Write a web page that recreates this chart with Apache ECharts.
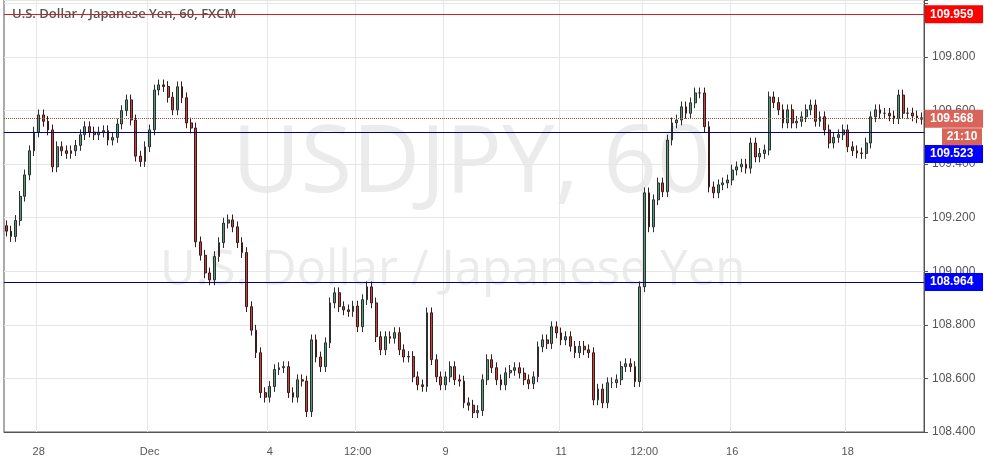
<!DOCTYPE html>
<html><head><meta charset="utf-8">
<script src="https://cdn.jsdelivr.net/npm/echarts@6/dist/echarts.min.js"></script>
<style>html,body{margin:0;padding:0;background:#fff}#c{width:984px;height:466px}</style>
</head><body><div id="c"></div>
<script>
const closes = [
109.15,109.13,109.19,109.28,109.36,109.45,109.52,109.584,109.56,109.528,109.39,109.465,109.45,109.44,109.45,109.47,109.51,109.54,109.52,109.51,109.52,109.525,109.49,109.50,109.55,109.60,109.64,109.565,109.43,109.41,109.465,109.528,109.677,109.696,109.69,109.65,109.603,109.689,109.648,109.554,109.535,109.11,109.06,108.994,108.968,109.055,109.107,109.18,109.192,109.166,109.107,109.07,108.868,108.78,108.696,108.547,108.53,108.57,108.633,108.64,108.644,108.547,108.53,108.595,108.59,108.476,108.744,108.68,108.644,108.733,108.882,108.92,108.868,
108.856,108.85,108.87,108.793,108.894,108.942,108.882,108.756,108.707,108.756,108.75,108.771,108.707,108.68,108.682,108.606,108.576,108.57,108.845,108.67,108.606,108.576,108.606,108.644,108.595,108.59,108.509,108.50,108.472,108.48,108.595,108.67,108.64,108.595,108.576,108.621,108.63,108.64,108.62,108.595,108.58,108.606,108.718,108.744,108.73,108.793,108.77,108.744,108.756,108.72,108.696,108.72,108.707,108.696,108.52,108.56,108.509,108.584,108.584,108.595,108.644,
108.655,108.644,108.588,108.942,109.293,109.166,109.267,109.33,109.297,109.49,109.554,109.565,109.614,109.59,109.629,109.666,109.666,109.54,109.315,109.293,109.323,109.33,109.341,109.378,109.39,109.40,109.385,109.479,109.427,109.44,109.453,109.651,109.63,109.603,109.554,109.603,109.554,109.56,109.577,109.603,109.621,109.56,109.577,109.528,109.479,109.50,109.51,109.528,109.465,109.45,109.442,109.44,109.479,109.577,109.603,109.59,109.59,109.58,109.57,109.658,109.59,109.591,109.58,109.573,109.568];
const firstOpen = 109.17;
const wick = 0.02;
const tickLabels = {7:'28',31:'Dec',57:'4',76:'12:00',95:'9',120:'11',138:'12:00',157:'16',182:'18'};
const levels = {top:'109.959', last:'109.568', mid:'109.523', low:'108.964'};
const countdown = '21:10';

const cats = closes.map((c,i)=>tickLabels[i]||'');
const ohlc = closes.map((c,i)=>{
  const o = i===0?firstOpen:closes[i-1];
  return [o,c,Math.min(o,c)-wick,Math.max(o,c)+wick];
});
const ch = echarts.init(document.getElementById('c'));
const tag = (bg,txt,dy)=>({show:true,position:'end',distance:1,offset:[0,dy||0],backgroundColor:bg,color:'#fff',fontSize:12,fontWeight:'bold',padding:[3,5],width:48,formatter:()=>txt});
const isTick = i=>tickLabels[i]!==undefined;
ch.setOption({
  animation:false,
  grid:{left:4,right:60,top:0,bottom:34,show:true,borderColor:'#555',borderWidth:1},
  xAxis:{type:'category',data:cats,boundaryGap:true,
    axisLine:{lineStyle:{color:'#555'}},axisTick:{show:false},
    axisLabel:{interval:(i)=>isTick(i),color:'#555',fontSize:11,margin:14},
    splitLine:{show:true,interval:(i)=>isTick(i),lineStyle:{color:'#e6e6e6'}}},
  yAxis:{type:'value',position:'right',min:108.4,max:110.013,interval:0.2,
    axisLine:{show:true,lineStyle:{color:'#555'}},axisTick:{show:true,length:4,lineStyle:{color:'#555'}},
    axisLabel:{color:'#555',fontSize:12,formatter:v=>v>=110?'':v.toFixed(3)},
    splitLine:{lineStyle:{color:'#e6e6e6'}}},
  series:[{type:'candlestick',data:ohlc,barMaxWidth:3,
    itemStyle:{color:'#4e9e78',color0:'#c0463f',borderColor:'#2e2e2e',borderColor0:'#3a1a18',borderWidth:1},
    markLine:{symbol:'none',silent:true,data:[
      {yAxis:+levels.top,lineStyle:{color:'#d02020',type:'solid',width:1},label:tag('#ff0000',levels.top)},
      {yAxis:+levels.mid,lineStyle:{color:'#000080',type:'solid',width:1},label:tag('#0000ff',levels.mid,22)},
      {yAxis:+levels.low,lineStyle:{color:'#000080',type:'solid',width:1},label:tag('#0000ff',levels.low)},
      {yAxis:+levels.last,lineStyle:{color:'#a0503a',type:'dotted',width:1},label:tag('#d9645a',levels.last)}
    ]}
  }]
});
const yl = ch.convertToPixel({yAxisIndex:0},+levels.last);
ch.setOption({graphic:[
  {type:'text',left:232,top:118,z:-10,style:{text:'USDJPY, 60',font:'94px "Open Sans", sans-serif',fill:'#ebebeb'}},
  {type:'text',left:160,top:247,z:-10,style:{text:'U.S. Dollar / Japanese Yen',font:'49px "Open Sans", sans-serif',fill:'#ebebeb'}},
  {type:'text',left:12,top:8,style:{text:'U.S. Dollar / Japanese Yen, 60, FXCM',font:'600 13px "Open Sans", sans-serif',fill:'#555'}},
  {type:'rect',z:100,shape:{x:942,y:yl+9,width:40,height:17},style:{fill:'#d9645a'}},
  {type:'text',z:101,x:962,y:yl+17.5,style:{text:countdown,align:'center',verticalAlign:'middle',font:'bold 12px sans-serif',fill:'#fff'}}
]});
</script></body></html>
